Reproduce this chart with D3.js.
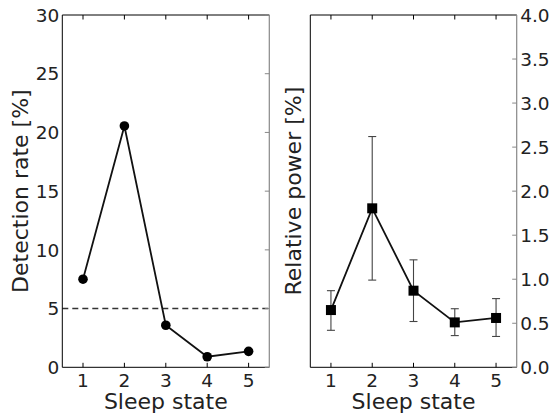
<!DOCTYPE html>
<html>
<head>
<meta charset="utf-8">
<script src="https://cdn.jsdelivr.net/npm/d3@7"></script>
<style>
  body { margin: 0; background: #fff; }
  svg { display: block; }
  text { font-family: "DejaVu Sans", sans-serif; fill: #222; }
</style>
</head>
<body>
<div id="chart"></div>
<script>
// data
const states = [1, 2, 3, 4, 5];
const detectionRate = [7.5, 20.55, 3.58, 0.9, 1.36];
const threshold = 5;
const relPower = [0.65, 1.805, 0.87, 0.51, 0.56];
const relPowerHigh = [0.87, 2.62, 1.22, 0.665, 0.78];
const relPowerLow = [0.42, 0.99, 0.52, 0.36, 0.35];
const leftTicks = [0, 5, 10, 15, 20, 25, 30];
const rightTicks = [0, 0.5, 1.0, 1.5, 2.0, 2.5, 3.0, 3.5, 4.0];

// costants
const W = 556, H = 418,
    yTop = 15, yBottom = 367.3,
    tickLen = 4.5;

const svg = d3.select("#chart").append("svg")
    .attr("width", W).attr("height", H);

const y1 = d3.scaleLinear().domain([0, 30]).range([yBottom, yTop]);
const y2 = d3.scaleLinear().domain([0, 4]).range([yBottom, yTop]);

function panel(x0, x1) {
    return d3.scaleLinear().domain([0.5, 5.5]).range([x0, x1]);
}

function frame(g, x, y, yTicks, yFmt, side) {
    const x0 = x.range()[0], x1 = x.range()[1];
    // spines
    g.append("line").attr("x1", x0).attr("x2", x1).attr("y1", yTop).attr("y2", yTop)
        .attr("stroke", "#000").attr("stroke-width", 1);
    g.append("line").attr("x1", x0).attr("x2", x1).attr("y1", yBottom).attr("y2", yBottom)
        .attr("stroke", "#000").attr("stroke-width", 1);
    g.append("line").attr("x1", x0).attr("x2", x0).attr("y1", yTop).attr("y2", yBottom)
        .attr("stroke", "#000").attr("stroke-width", 1);
    g.append("line").attr("x1", x1).attr("x2", x1).attr("y1", yTop).attr("y2", yBottom)
        .attr("stroke", "#888").attr("stroke-width", 1.2);

    // x ticks (inward, top and bottom)
    states.forEach(s => {
        g.append("line").attr("x1", x(s)).attr("x2", x(s))
            .attr("y1", yBottom).attr("y2", yBottom - tickLen).attr("stroke", "#000");
        g.append("line").attr("x1", x(s)).attr("x2", x(s))
            .attr("y1", yTop).attr("y2", yTop + tickLen).attr("stroke", "#000");
        g.append("text").text(s)
            .attr("x", x(s)).attr("y", 386.5)
            .attr("text-anchor", "middle").style("font-size", "18.5px");
    });

    // y ticks only on the right spine
    yTicks.forEach(t => {
        g.append("line").attr("x1", x1).attr("x2", x1 - tickLen)
            .attr("y1", y(t)).attr("y2", y(t)).attr("stroke", "#888");
        if (side === "left") {
            g.append("text").text(yFmt(t))
                .attr("x", x0 - 3).attr("y", y(t) + 6.7)
                .attr("text-anchor", "end").style("font-size", "18.5px");
        } else {
            g.append("text").text(yFmt(t))
                .attr("x", x1 + 3.5).attr("y", y(t) + 6.7)
                .attr("text-anchor", "start").style("font-size", "18.5px");
        }
    });

    g.append("text").text("Sleep state")
        .attr("x", (x0 + x1) / 2).attr("y", 409)
        .attr("text-anchor", "middle").style("font-size", "22px");
}

// left panel
const xa = panel(62.3, 269.3);
const gL = svg.append("g");

gL.append("line")
    .attr("x1", xa.range()[0]).attr("x2", xa.range()[1])
    .attr("y1", y1(threshold)).attr("y2", y1(threshold))
    .attr("stroke", "#333").attr("stroke-width", 1.5)
    .attr("stroke-dasharray", "6,4");

gL.append("path")
    .datum(detectionRate)
    .attr("d", d3.line().x((d, i) => xa(states[i])).y(d => y1(d)))
    .attr("fill", "none").attr("stroke", "#111").attr("stroke-width", 1.8);

gL.selectAll("circle").data(detectionRate).enter().append("circle")
    .attr("cx", (d, i) => xa(states[i])).attr("cy", d => y1(d))
    .attr("r", 4.8).attr("fill", "#000");

frame(gL, xa, y1, leftTicks, d3.format("d"), "left");

gL.append("text").text("Detection rate [%]")
    .attr("transform", `translate(28, ${(yTop + yBottom) / 2}) rotate(-90)`)
    .attr("text-anchor", "middle").style("font-size", "22px");

// right panel
const xb = panel(310.3, 516.7);
const gR = svg.append("g");

// error bars
states.forEach((s, i) => {
    const cx = xb(s);
    gR.append("line").attr("x1", cx).attr("x2", cx)
        .attr("y1", y2(relPowerLow[i])).attr("y2", y2(relPowerHigh[i]))
        .attr("stroke", "#444").attr("stroke-width", 1.1);
    [relPowerLow[i], relPowerHigh[i]].forEach(v => {
        gR.append("line").attr("x1", cx - 4).attr("x2", cx + 4)
            .attr("y1", y2(v)).attr("y2", y2(v))
            .attr("stroke", "#444").attr("stroke-width", 1.1);
    });
});

gR.append("path")
    .datum(relPower)
    .attr("d", d3.line().x((d, i) => xb(states[i])).y(d => y2(d)))
    .attr("fill", "none").attr("stroke", "#111").attr("stroke-width", 1.8);

gR.selectAll("rect").data(relPower).enter().append("rect")
    .attr("x", (d, i) => xb(states[i]) - 5).attr("y", d => y2(d) - 5)
    .attr("width", 10).attr("height", 10).attr("fill", "#000");

frame(gR, xb, y2, rightTicks, d3.format(".1f"), "right");

gR.append("text").text("Relative power [%]")
    .attr("transform", `translate(301, ${(yTop + yBottom) / 2}) rotate(-90)`)
    .attr("text-anchor", "middle").style("font-size", "22px");
</script>
</body>
</html>
